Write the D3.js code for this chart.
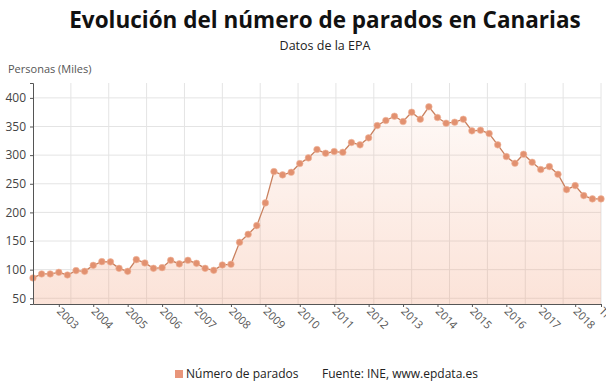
<!DOCTYPE html>
<html>
<head>
<meta charset="utf-8">
<script src="https://cdn.jsdelivr.net/npm/d3@7"></script>
<style>
  body { margin: 0; background: #fff; }
  svg { font-family: "Open Sans", sans-serif; }
</style>
</head>
<body>
<div id="chart"></div>
<script>
// parados EPA Canarias, miles de personas, trimestral desde 2T 2002
const values = [
  85.5, 92.5, 92.5, 95.3, 90.7, 98.3, 97, 107.5, 114, 113.5,
  102.3, 97, 117.5, 111.7, 102.3, 103.5, 116.3, 110, 116.3, 111,
  102.3, 98.8, 108.2, 109.3, 147.7, 161.7, 176.9, 216.6, 271.3, 265.5,
  270, 285.3, 295.2, 309.8, 303.3, 306.3, 305, 322, 318, 330.2,
  351.7, 360.5, 368, 358.7, 375, 362.7, 384.4, 365.7, 355.8, 357.5,
  362.7, 342.4, 343.5, 337.7, 318, 297.5, 285.8, 301.5, 287.6, 274.8,
  280, 266.6, 239.8, 246.8, 229.3, 223.6, 223.6
]
const startYear = 2002, startQuarter = 2
const quarters = values.map((v, i) => {
  let q = startQuarter - 1 + i
  return 'Trim. ' + (q % 4 + 1) + ' ' + (startYear + Math.floor(q / 4))
})
const yTicks = [50, 100, 150, 200, 250, 300, 350, 400]

const width = 606, height = 389
const margin = { left: 33, right: 5, top: 83, bottom: 85 }

let svg = d3.select('#chart').append('svg')
  .attr('width', width)
  .attr('height', height)

let x = d3.scalePoint()
  .domain(quarters)
  .range([margin.left, width - margin.right])

let y = d3.scaleLinear()
  .domain([40, 426])
  .range([height - margin.bottom, margin.top])

// vertical grid, 15 equal columns
let gx = d3.scaleLinear().domain([0, 15]).range([margin.left, width - margin.right])
svg.append('g')
  .selectAll('line').data(d3.range(1, 16))
  .join('line')
  .attr('x1', d => gx(d)).attr('x2', d => gx(d))
  .attr('y1', y.range()[1]).attr('y2', y.range()[0])
  .attr('stroke', '#e4e4e4')

svg.append('g')
  .selectAll('line').data(yTicks)
  .join('line')
  .attr('x1', margin.left).attr('x2', width - margin.right)
  .attr('y1', d => y(d)).attr('y2', d => y(d))
  .attr('stroke', '#e4e4e4')

// area
let defs = svg.append('defs')
let grad = defs.append('linearGradient')
  .attr('id', 'fade')
  .attr('x1', 0).attr('x2', 0).attr('y1', 0).attr('y2', 1)
grad.append('stop').attr('offset', '0%').attr('stop-color', '#f29a74').attr('stop-opacity', 0.06)
grad.append('stop').attr('offset', '100%').attr('stop-color', '#f29a74').attr('stop-opacity', 0.28)

let area = d3.area()
  .x((d, i) => x(quarters[i]))
  .y0(y.range()[0])
  .y1(d => y(d))

svg.append('path')
  .datum(values)
  .attr('d', area)
  .attr('fill', 'url(#fade)')

let line = d3.line()
  .x((d, i) => x(quarters[i]))
  .y(d => y(d))

svg.append('path')
  .datum(values)
  .attr('d', line)
  .attr('fill', 'none')
  .attr('stroke', '#c9805e')
  .attr('stroke-width', 1.3)

svg.append('g')
  .selectAll('circle').data(values)
  .join('circle')
  .attr('cx', (d, i) => x(quarters[i]))
  .attr('cy', d => y(d))
  .attr('r', 3.3)
  .attr('fill', '#e29170')
  .attr('stroke', '#f2b9a0')
  .attr('stroke-width', 0.6)

// axes
let yAxis = svg.append('g')
  .attr('transform', `translate(${margin.left},0)`)
  .call(d3.axisLeft(y).tickValues(yTicks).tickSize(3).tickPadding(4))
yAxis.select('.domain').attr('stroke', '#555')
yAxis.selectAll('.tick line').attr('stroke', '#555')
yAxis.selectAll('.tick text')
  .attr('fill', '#444')
  .attr('font-size', 12)
  .attr('font-family', '"Open Sans", sans-serif')

let last = quarters[quarters.length - 1]
let shown = quarters.filter(q => q.startsWith('Trim. 1') || q === last)

let xAxis = svg.append('g')
  .attr('transform', `translate(0,${y.range()[0]})`)
  .call(d3.axisBottom(x).tickValues(shown).tickSize(3).tickSizeOuter(0)
    .tickFormat(q => q === last ? q : q.slice(-4)))
xAxis.select('.domain').attr('stroke', '#555')
xAxis.selectAll('.tick line').attr('stroke', '#555')
xAxis.selectAll('.tick text')
  .attr('fill', '#555')
  .attr('font-size', 11)
  .attr('font-family', '"Open Sans", sans-serif')
  .attr('text-anchor', 'start')
  .attr('dy', null)
  .attr('transform', 'translate(-3,8) rotate(45)')
  .attr('y', 0)
  .attr('x', 0)

// titles
svg.append('text')
  .attr('x', 325).attr('y', 28)
  .attr('text-anchor', 'middle')
  .attr('font-size', 22.5)
  .attr('font-weight', 'bold')
  .attr('fill', '#111')
  .text('Evolución del número de parados en Canarias')

svg.append('text')
  .attr('x', 325).attr('y', 50)
  .attr('text-anchor', 'middle')
  .attr('font-size', 12.5)
  .attr('fill', '#222')
  .text('Datos de la EPA')

svg.append('text')
  .attr('x', 8).attr('y', 73)
  .attr('font-size', 11)
  .attr('fill', '#555')
  .text('Personas (Miles)')

// legend
let legend = svg.append('g').attr('transform', 'translate(175,378)')
legend.append('rect')
  .attr('x', 0).attr('y', -8)
  .attr('width', 8).attr('height', 8)
  .attr('fill', '#e8957a')
legend.append('text')
  .attr('x', 11).attr('y', 0)
  .attr('font-size', 12)
  .attr('fill', '#222')
  .text('Número de parados')
legend.append('text')
  .attr('x', 147).attr('y', 0)
  .attr('font-size', 12)
  .attr('fill', '#222')
  .text('Fuente: INE, www.epdata.es')
</script>
</body>
</html>
